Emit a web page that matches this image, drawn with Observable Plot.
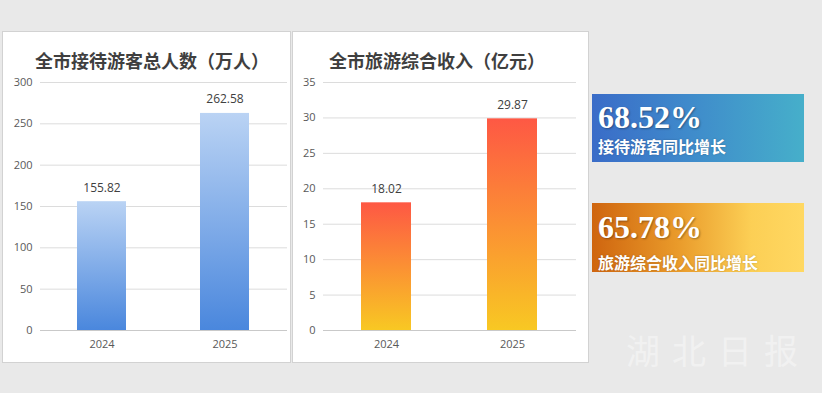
<!DOCTYPE html>
<html>
<head>
<meta charset="utf-8">
<script src="https://cdn.jsdelivr.net/npm/d3@7"></script>
<script src="https://cdn.jsdelivr.net/npm/@observablehq/plot@0.6"></script>
<style>
  html, body { margin: 0; padding: 0; }
  body { width: 822px; height: 393px; background: #e9e9e9; position: relative; overflow: hidden; font-family: "Noto Sans CJK SC", "Noto Sans", sans-serif; }
  .panel { position: absolute; background: #fff; box-shadow: 0 0 0 1px #d2d2d2; }
  .title { position: absolute; font-family: "Noto Sans CJK SC", sans-serif; font-weight: 700; font-size: 18px; line-height: 18px; color: #3f3f3f; white-space: nowrap; }
  .box { position: absolute; left: 592px; width: 212px; height: 68px; }
  .big { position: absolute; left: 6px; font-family: "Liberation Serif", "DejaVu Serif", serif; font-weight: 700; font-size: 32px; line-height: 32px; color: #fff; text-shadow: 1px 1px 2px rgba(0,0,0,0.35); white-space: nowrap; }
  .sub { position: absolute; left: 6px; font-family: "Noto Sans CJK SC", sans-serif; font-weight: 700; font-size: 16px; line-height: 16px; color: #fff; white-space: nowrap; text-shadow: 0 0 2px rgba(0,0,0,0.25); }
  .wm { position: absolute; left: 626px; top: 330px; font-family: "Noto Sans CJK SC", sans-serif; font-size: 34px; line-height: 40px; letter-spacing: 12px; color: rgba(255,255,255,0.4); white-space: nowrap; }
</style>
</head>
<body>
<div id="p1" class="panel" style="left:3px; top:32px; width:287px; height:330px;"></div>
<div id="p2" class="panel" style="left:293px; top:32px; width:295px; height:330px;"></div>
<div class="title" style="left:35px; top:51px;">全市接待游客总人数（万人）</div>
<div class="title" style="left:329px; top:51px;">全市旅游综合收入（亿元）</div>

<div class="box" style="top:94px; background: linear-gradient(90deg, #3a6cc8 0%, #3f8acb 45%, #46afca 100%);">
  <div class="big" style="top:7px;">68.52%</div>
  <div class="sub" style="top:44px;">接待游客同比增长</div>
</div>
<div class="box" style="top:203px; height:69px; background: linear-gradient(90deg, #cf650f 0%, #e99a2a 40%, #fccf55 75%, #ffd862 100%);">
  <div class="big" style="top:8px;">65.78%</div>
  <div class="sub" style="top:51px;">旅游综合收入同比增长</div>
</div>
<div class="wm">湖北日报</div>

<script>
const years = ["2024", "2025"];
const visitors = [155.82, 262.58];
const revenue = [18.02, 29.87];
const visitorTicks = [0, 50, 100, 150, 200, 250, 300];
const revenueTicks = [0, 5, 10, 15, 20, 25, 30, 35];

function makeChart({values, ticks, gradId, top, bottom, width, marginLeft, marginRight}) {
  const data = years.map((y, i) => ({year: y, value: values[i]}));
  const chart = Plot.plot({
    width, height: 330,
    marginTop: 50, marginBottom: 32, marginLeft, marginRight,
    style: {background: "transparent", fontFamily: "'Open Sans', 'Noto Sans', sans-serif", fontSize: "11px", color: "#595959"},
    x: {domain: years, paddingInner: 0.6, paddingOuter: 0.3, label: null, tickSize: 0, tickPadding: 10},
    y: {domain: [0, ticks[ticks.length - 1]], ticks, tickSize: 0, tickPadding: 8, label: null, tickFormat: d => String(d)},
    marks: [
      Plot.ruleY(ticks.filter(t => t > 0), {stroke: "#dcdcdc", strokeWidth: 1}),
      Plot.barY(data, {x: "year", y: "value", fill: `url(#${gradId})`}),
      Plot.ruleY([0], {stroke: "#c9c9c9", strokeWidth: 1}),
      Plot.text(data, {x: "year", y: "value", text: d => d.value.toFixed(2), dy: -14, fontSize: 12, fill: "#404040"})
    ]
  });
  const svg = d3.select(chart.tagName.toLowerCase() === "svg" ? chart : chart.querySelector("svg"));
  const g = svg.insert("defs", ":first-child").append("linearGradient")
    .attr("id", gradId).attr("x1", 0).attr("y1", 0).attr("x2", 0).attr("y2", 1);
  g.append("stop").attr("offset", "0%").attr("stop-color", top);
  g.append("stop").attr("offset", "100%").attr("stop-color", bottom);
  return chart;
}

document.getElementById("p1").append(makeChart({
  values: visitors, ticks: visitorTicks, gradId: "gBlue",
  top: "#bad3f4", bottom: "#4a87dd", width: 287, marginLeft: 37, marginRight: 3
}));
document.getElementById("p2").append(makeChart({
  values: revenue, ticks: revenueTicks, gradId: "gOrange",
  top: "#fe5844", bottom: "#f8c823", width: 295, marginLeft: 30, marginRight: 12
}));
</script>
</body>
</html>
